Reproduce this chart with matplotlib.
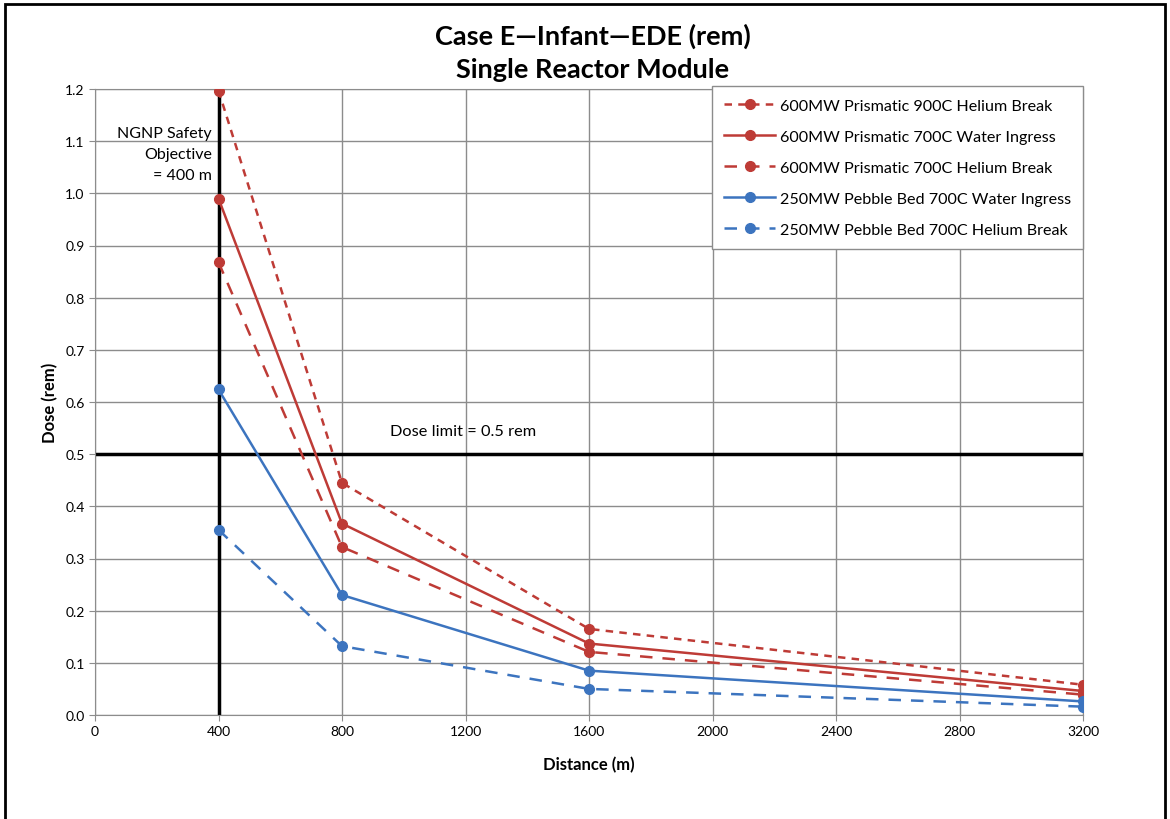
import matplotlib
matplotlib.use("Agg")
import matplotlib.pyplot as plt
from matplotlib.patches import Rectangle

plt.rcParams['font.family'] = ['Lato', 'DejaVu Sans']

distance = [400, 800, 1600, 3200]
s_prism900_he = [1.197, 0.445, 0.165, 0.058]
s_prism700_water = [0.990, 0.367, 0.137, 0.046]
s_prism700_he = [0.868, 0.322, 0.121, 0.039]
s_pebble700_water = [0.624, 0.230, 0.085, 0.026]
s_pebble700_he = [0.355, 0.132, 0.050, 0.016]

labels = ["600MW Prismatic 900C Helium Break",
          "600MW Prismatic 700C Water Ingress",
          "600MW Prismatic 700C Helium Break",
          "250MW Pebble Bed 700C Water Ingress",
          "250MW Pebble Bed 700C Helium Break"]
xticks = [0, 400, 800, 1200, 1600, 2000, 2400, 2800, 3200]
yticks = [0.0, 0.1, 0.2, 0.3, 0.4, 0.5, 0.6, 0.7, 0.8, 0.9, 1.0, 1.1, 1.2]

RED = "#BE3B36"
BLUE = "#3C74BF"

fig = plt.figure(figsize=(11.7, 8.2), dpi=100)
fig.patches.append(Rectangle((5/1170, -0.05), 1160/1170, (815/820) + 0.05,
                             transform=fig.transFigure, fill=False,
                             edgecolor='black', linewidth=2))
ax = fig.add_axes([95/1170, 1 - 716/820, (1083-95)/1170, (716-90)/820])

ax.set_xlim(0, 3200)
ax.set_ylim(0, 1.2)
ax.set_xticks(xticks)
ax.set_yticks(yticks)
ax.set_xticklabels([str(x) for x in xticks], fontsize=10)
ax.set_yticklabels([f"{y:.1f}" for y in yticks], fontsize=10)
ax.grid(True, color='#8c8c8c', linewidth=1)
ax.set_axisbelow(True)
for sp in ax.spines.values():
    sp.set_color('#8c8c8c')
ax.tick_params(axis='both', colors='#8c8c8c', labelcolor='black', length=4)

ax.axvline(400, color='black', linewidth=2.5, zorder=2)
ax.axhline(0.5, color='black', linewidth=2.5, zorder=2)

ms = 7
ax.plot(distance, s_prism900_he, color=RED, linewidth=1.8, dashes=(3, 2.5),
        marker='o', markersize=ms, label=labels[0], zorder=3)
ax.plot(distance, s_prism700_water, color=RED, linewidth=1.8, linestyle='-',
        marker='o', markersize=ms, label=labels[1], zorder=3)
ax.plot(distance, s_prism700_he, color=RED, linewidth=1.8, dashes=(5, 4),
        marker='o', markersize=ms, label=labels[2], zorder=3)
ax.plot(distance, s_pebble700_water, color=BLUE, linewidth=1.8, linestyle='-',
        marker='o', markersize=ms, label=labels[3], zorder=3)
ax.plot(distance, s_pebble700_he, color=BLUE, linewidth=1.8, dashes=(5, 4),
        marker='o', markersize=ms, label=labels[4], zorder=3)

leg = ax.legend(loc='upper right', bbox_to_anchor=(1.0, 1.004), fontsize=11.6,
                frameon=True, fancybox=False, edgecolor='#8c8c8c',
                framealpha=1, labelspacing=1.04, handlelength=3.15,
                handletextpad=0.3, borderpad=0.75, borderaxespad=0.0)
leg.get_frame().set_linewidth(1)

ax.text(378, 1.022, "NGNP Safety\nObjective\n= 400 m", ha='right', va='bottom',
        fontsize=11.5, linespacing=1.62)
ax.text(955, 0.545, "Dose limit = 0.5 rem", ha='left', va='center', fontsize=11.8)

ax.set_xlabel("Distance (m)", fontsize=12, fontweight='bold', labelpad=13)
ax.set_ylabel("Dose (rem)", fontsize=12, fontweight='bold', labelpad=5)

fig.text(593/1170, 1 - 36/820, "Case E\u2014Infant\u2014EDE (rem)", ha='center',
         va='center', fontsize=19.5, fontweight='bold')
fig.text(593/1170, 1 - 70/820, "Single Reactor Module", ha='center',
         va='center', fontsize=19.5, fontweight='bold')

fig.savefig("out.png", dpi=100)
